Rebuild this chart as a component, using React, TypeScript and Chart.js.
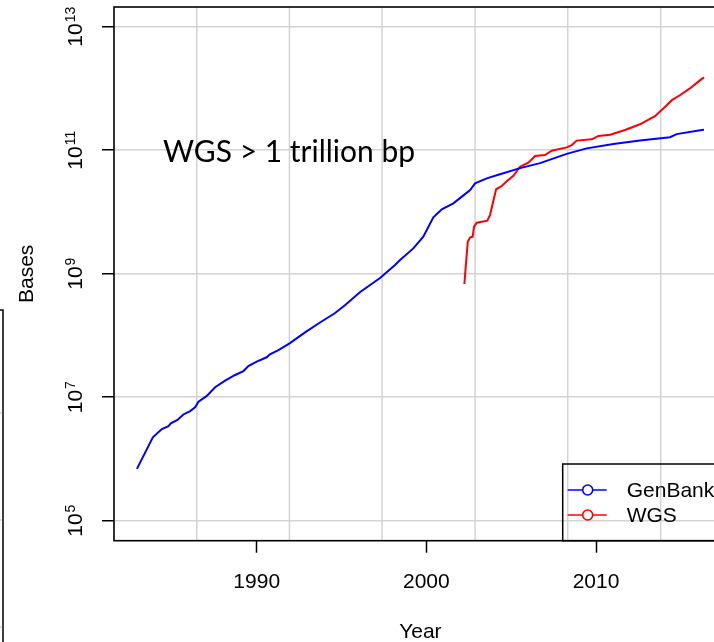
import React, { useEffect, useRef } from "react";
import { Chart, registerables } from "chart.js";

Chart.register(...registerables);

// ---- data ----
const genbankYears = [
  1982.94, 1983.88, 1984.41, 1984.8, 1984.94, 1985.33, 1985.68, 1986.08, 1986.37, 1986.57,
  1987.06, 1987.55, 1988.14, 1988.73, 1989.22, 1989.51, 1990.0, 1990.59, 1990.78, 1991.28,
  1991.96, 1992.85, 1993.73, 1994.6, 1995.2, 1996.08, 1997.27, 1998.15, 1998.45, 1999.23,
  1999.82, 2000.41, 2000.91, 2001.59, 2002.09, 2002.58, 2002.87, 2003.56, 2004.34, 2005.52,
  2006.7, 2008.27, 2009.45, 2011.02, 2012.59, 2014.36, 2014.75, 2016.23, 2016.36,
];
const genbankBases = [
  6.9e5, 2.24e6, 3.05e6, 3.4e6, 3.78e6, 4.27e6, 5.25e6, 5.97e6, 6.85e6, 8.45e6,
  1.05e7, 1.45e7, 1.85e7, 2.29e7, 2.65e7, 3.2e7, 3.76e7, 4.43e7, 4.95e7, 5.8e7,
  7.5e7, 1.12e8, 1.62e8, 2.29e8, 3.09e8, 5.0e8, 8.5e8, 1.38e9, 1.66e9, 2.57e9,
  3.98e9, 8.18e9, 1.1e10, 1.38e10, 1.77e10, 2.26e10, 2.91e10, 3.5e10, 4.07e10, 5.13e10,
  6.17e10, 8.71e10, 1.07e11, 1.26e11, 1.43e11, 1.62e11, 1.82e11, 2.12e11, 2.14e11,
];
const wgsYears = [
  2002.24, 2002.32, 2002.44, 2002.58, 2002.73, 2002.81, 2002.97, 2003.59, 2003.75, 2004.11,
  2004.44, 2004.77, 2005.13, 2005.52, 2006.01, 2006.41, 2006.99, 2007.39, 2008.27, 2008.57,
  2008.86, 2009.75, 2010.14, 2010.83, 2011.71, 2012.59, 2013.47, 2014.06, 2014.47, 2014.94,
  2015.53, 2016.12, 2016.36,
];
const wgsBases = [
  6.8e8, 1.3e9, 3.3e9, 3.89e9, 3.98e9, 5.77e9, 6.7e9, 7.21e9, 8.9e9, 2.33e10,
  2.63e10, 3.21e10, 3.86e10, 5.41e10, 6.28e10, 8.05e10, 8.36e10, 9.82e10, 1.11e11, 1.21e11,
  1.43e11, 1.5e11, 1.7e11, 1.78e11, 2.12e11, 2.63e11, 3.55e11, 5.0e11, 6.46e11, 7.76e11,
  1.0e12, 1.35e12, 1.51e12,
];
const seriesLabels = ["GenBank", "WGS"];
const xTickYears = [1990, 2000, 2010];
const xGridYears = [1986.47, 1991.93, 1997.39, 2002.87, 2008.33, 2013.81];
const yTickExponents = [5, 7, 9, 11, 13];
const xTitle = "Year";
const yTitle = "Bases";
const noteText = "WGS > 1 trillion bp";
const noteYear = 1984.48;
const noteBases = 1e11;

const X_MIN = 1981.59;
const X_MAX = 2017.7;
const Y_MIN = Math.pow(10, 4.676);
const Y_MAX = Math.pow(10, 13.319);

const CANVAS_W = 760;
const CANVAS_H = 642;
const FONT = "'Liberation Sans', Arial, Helvetica, sans-serif";
const FS = 21;

const decorPlugin = {
  id: "decor",
  beforeDatasetsDraw(chart: any) {
    const { ctx, chartArea, scales } = chart;
    ctx.save();
    ctx.strokeStyle = "#d3d3d3";
    ctx.lineWidth = 1.5;
    xGridYears.forEach((yr) => {
      const px = scales.x.getPixelForValue(yr);
      ctx.beginPath();
      ctx.moveTo(px, chartArea.top);
      ctx.lineTo(px, chartArea.bottom);
      ctx.stroke();
    });
    ctx.restore();
  },
  afterDraw(chart: any) {
    const { ctx, chartArea, scales } = chart;
    const xs = scales.x;
    const ys = scales.y;
    ctx.save();

    // plot frame
    ctx.strokeStyle = "#000";
    ctx.lineWidth = 1.6;
    ctx.strokeRect(chartArea.left, chartArea.top, chartArea.right - chartArea.left, chartArea.bottom - chartArea.top);

    // x tick labels
    ctx.fillStyle = "#000";
    ctx.font = `${FS}px ${FONT}`;
    ctx.textAlign = "center";
    ctx.textBaseline = "alphabetic";
    xs.ticks.forEach((t: any) => {
      const px = xs.getPixelForValue(t.value);
      ctx.fillText(String(t.value), px, chartArea.bottom + 47);
    });

    // x title
    ctx.fillText(xTitle, (chartArea.left + chartArea.right) / 2, chartArea.bottom + 97);

    // y tick labels with superscript, rotated
    ys.ticks.forEach((t: any) => {
      const py = ys.getPixelForValue(t.value);
      const exp = String(Math.round(Math.log10(t.value)));
      ctx.save();
      ctx.translate(chartArea.left - 32, py);
      ctx.rotate(-Math.PI / 2);
      ctx.font = `${FS}px ${FONT}`;
      const wBase = ctx.measureText("10").width;
      ctx.font = `14px ${FONT}`;
      const wExp = ctx.measureText(exp).width;
      const start = -(wBase + wExp + 1) / 2;
      ctx.textAlign = "left";
      ctx.font = `${FS}px ${FONT}`;
      ctx.fillText("10", start, 0);
      ctx.font = `14px ${FONT}`;
      ctx.fillText(exp, start + wBase + 1, -7);
      ctx.restore();
    });

    // y title
    ctx.save();
    ctx.translate(chartArea.left - 81, (chartArea.top + chartArea.bottom) / 2);
    ctx.rotate(-Math.PI / 2);
    ctx.font = `${FS}px ${FONT}`;
    ctx.textAlign = "center";
    ctx.fillText(yTitle, 0, 0);
    ctx.restore();

    // annotation
    ctx.font = `30px Lato, 'Open Sans', sans-serif`;
    ctx.textAlign = "left";
    ctx.fillText(noteText, xs.getPixelForValue(noteYear), ys.getPixelForValue(noteBases) + 12);

    // legend
    const lw = 164;
    const lh = 76.7;
    const lx = chartArea.right - lw;
    const ly = chartArea.bottom - lh;
    ctx.strokeStyle = "#000";
    ctx.lineWidth = 1.5;
    ctx.strokeRect(lx, ly, lw, lh);
    chart.data.datasets.forEach((ds: any, i: number) => {
      const cy = ly + 26 + i * 25;
      ctx.strokeStyle = ds.borderColor;
      ctx.lineWidth = 1.6;
      ctx.beginPath();
      ctx.moveTo(lx + 5, cy);
      ctx.lineTo(lx + 44, cy);
      ctx.stroke();
      ctx.beginPath();
      ctx.fillStyle = "#fff";
      ctx.arc(lx + 25, cy, 5, 0, Math.PI * 2);
      ctx.fill();
      ctx.stroke();
      ctx.fillStyle = "#000";
      ctx.font = `${FS}px ${FONT}`;
      ctx.textAlign = "left";
      ctx.textBaseline = "middle";
      ctx.fillText(ds.label, lx + 64, cy + 1);
    });

    // remnant frame corner at the far left edge of the picture
    ctx.strokeStyle = "#000";
    ctx.lineWidth = 1.5;
    ctx.beginPath();
    ctx.moveTo(0, 310);
    ctx.lineTo(3, 310);
    ctx.lineTo(3, CANVAS_H);
    ctx.stroke();
    ctx.strokeStyle = "#d3d3d3";
    [413, 520, 627].forEach((yy) => {
      ctx.beginPath();
      ctx.moveTo(0, yy);
      ctx.lineTo(2, yy);
      ctx.stroke();
    });

    ctx.restore();
  },
};

export default function App() {
  const ref = useRef<HTMLCanvasElement | null>(null);

  useEffect(() => {
    if (!ref.current) return;
    const chart = new Chart(ref.current, {
      type: "line",
      data: {
        datasets: [
          {
            label: seriesLabels[0],
            data: genbankYears.map((x, i) => ({ x, y: genbankBases[i] })),
            borderColor: "#0000ff",
            borderWidth: 2,
            pointRadius: 0,
            tension: 0,
            fill: false,
          },
          {
            label: seriesLabels[1],
            data: wgsYears.map((x, i) => ({ x, y: wgsBases[i] })),
            borderColor: "#ff0000",
            borderWidth: 2,
            pointRadius: 0,
            tension: 0,
            fill: false,
          },
        ],
      },
      options: {
        responsive: false,
        animation: false,
        devicePixelRatio: 1,
        layout: { padding: { top: 7, right: CANVAS_W - 726.7, left: 0, bottom: 0 } },
        plugins: { legend: { display: false }, tooltip: { enabled: false }, title: { display: false } },
        scales: {
          x: {
            type: "linear",
            position: "bottom",
            min: X_MIN,
            max: X_MAX,
            bounds: "data",
            afterBuildTicks: (scale: any) => {
              scale.ticks = xTickYears.map((v) => ({ value: v }));
            },
            afterFit: (scale: any) => {
              scale.height = CANVAS_H - 540.7;
            },
            ticks: { display: false },
            border: { display: false },
            grid: {
              drawOnChartArea: false,
              drawTicks: true,
              tickLength: 12,
              tickColor: "#000",
              tickWidth: 1.5,
            },
          },
          y: {
            type: "logarithmic",
            position: "left",
            min: Y_MIN,
            max: Y_MAX,
            bounds: "data",
            afterBuildTicks: (scale: any) => {
              scale.ticks = yTickExponents.map((e) => ({ value: Math.pow(10, e) }));
            },
            afterFit: (scale: any) => {
              scale.width = 114;
            },
            ticks: { display: false },
            border: { display: false },
            grid: {
              color: "#d3d3d3",
              lineWidth: 1.5,
              drawTicks: true,
              tickLength: 12,
              tickColor: "#000",
              tickWidth: 1.5,
            },
          },
        },
      },
      plugins: [decorPlugin],
    } as any);
    return () => chart.destroy();
  }, []);

  return (
    <div
      style={{
        position: "fixed",
        left: 0,
        top: 0,
        width: 714,
        height: 642,
        overflow: "hidden",
        background: "#fff",
      }}
    >
      <canvas ref={ref} width={CANVAS_W} height={CANVAS_H} style={{ display: "block" }} />
    </div>
  );
}
